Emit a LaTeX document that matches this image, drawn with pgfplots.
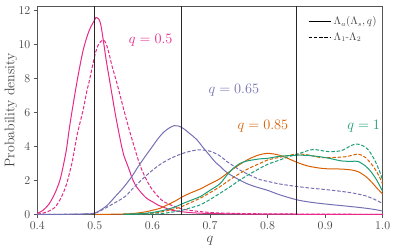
\documentclass[border=0pt]{standalone}
\usepackage{pgfplots}
\pgfplotsset{compat=1.18}
\definecolor{cpink}{HTML}{E7298A}
\definecolor{cpurple}{HTML}{7570B3}
\definecolor{corange}{HTML}{D95F02}
\definecolor{cgreen}{HTML}{1B9E77}
\definecolor{cframe}{HTML}{555555}
\definecolor{ctext}{HTML}{444444}
\begin{document}
\begin{tikzpicture}
\useasboundingbox (-37.3bp,-37.5bp) rectangle (357.7bp,214.5bp);
\begin{axis}[
  at={(0,0)}, anchor=south west,
  scale only axis, width=345.4bp, height=208.5bp,
  xmin=0.4, xmax=1.0, ymin=0, ymax=12.25,
  xtick={0.4,0.5,0.6,0.7,0.8,0.9,1.0},
  ytick={0,2,4,6,8,10,12},
  xticklabel style={/pgf/number format/.cd,fixed,fixed zerofill,precision=1},
  tick align=outside, tick pos=left,
  major tick length=3.5bp,
  axis line style={draw=cframe, line width=0.8bp},
  every tick/.style={draw=cframe, line width=0.8bp},
  tick label style={font=\fontsize{12}{14}\selectfont, text=ctext},
  xlabel={$q$}, ylabel={Probability density},
  label style={font=\fontsize{14}{16}\selectfont, text=ctext},
  xlabel style={at={(axis description cs:0.5,-0.128)}, anchor=center},
  ylabel style={at={(axis description cs:-0.0762,0.5)}, anchor=center},
  legend style={at={(1,1)}, anchor=north east, draw=none, fill=none,
    font=\fontsize{10.5}{12}\selectfont, text=ctext, row sep=3bp,
    xshift=-1bp, yshift=-6bp},
  legend cell align=left,
  legend image code/.code={\draw[#1] (0cm,0cm) -- (0.8cm,0cm);},
  every axis plot/.append style={line width=1bp, smooth},
]
% q = 0.5
\addplot[cpink, forget plot] coordinates {
(0.40,0.06) (0.41,0.25) (0.42,0.6) (0.43,1.2) (0.44,2.1) (0.45,3.7) (0.455,4.9)
(0.46,6.0) (0.47,8.0) (0.48,9.7) (0.49,10.8) (0.50,11.45) (0.503,11.57) (0.51,11.2)
(0.52,9.0) (0.525,8.0) (0.53,7.0) (0.535,6.0) (0.54,5.1) (0.5465,4.0) (0.55,3.5)
(0.56,2.6) (0.564,2.2) (0.57,1.75) (0.58,1.3) (0.59,0.95) (0.60,0.75) (0.61,0.55)
(0.62,0.42) (0.633,0.26) (0.65,0.17) (0.67,0.1) (0.70,0.06) (0.75,0.03) (0.80,0.02)
(0.90,0.01) (1.00,0.0)};
\addplot[cpink, dash pattern=on 3.5bp off 1.8bp, forget plot] coordinates {
(0.40,0.02) (0.41,0.08) (0.42,0.2) (0.43,0.4) (0.44,0.9) (0.45,1.7) (0.46,3.0)
(0.465,3.9) (0.47,4.8) (0.48,6.2) (0.4857,7.2) (0.49,7.8) (0.50,9.35) (0.505,9.9)
(0.51,10.15) (0.515,10.25) (0.52,10.0) (0.526,9.27) (0.53,8.7) (0.54,7.5)
(0.555,5.55) (0.57,3.8) (0.58,2.75) (0.595,1.7) (0.61,1.05) (0.62,0.75) (0.64,0.45)
(0.66,0.27) (0.70,0.12) (0.75,0.06) (0.80,0.04) (0.90,0.02) (1.00,0.01)};
% q = 0.65
\addplot[cpurple, forget plot] coordinates {
(0.40,0.0) (0.45,0.01) (0.48,0.03) (0.50,0.08) (0.52,0.5) (0.535,1.04) (0.55,1.6)
(0.564,2.22) (0.575,2.8) (0.587,3.39) (0.60,4.0) (0.61,4.47) (0.62,4.85) (0.63,5.1)
(0.638,5.22) (0.645,5.2) (0.6535,5.06) (0.665,4.75) (0.677,4.4) (0.69,3.85)
(0.70,3.45) (0.71,3.05) (0.717,2.85) (0.73,2.45) (0.75,2.05) (0.765,1.8) (0.78,1.62)
(0.80,1.42) (0.82,1.17) (0.85,0.87) (0.875,0.72) (0.905,0.6) (0.935,0.5)
(0.963,0.4) (0.985,0.3) (1.00,0.2)};
\addplot[cpurple, dash pattern=on 3.5bp off 1.8bp, forget plot] coordinates {
(0.40,0.0) (0.48,0.03) (0.50,0.08) (0.512,0.26) (0.53,0.6) (0.552,1.04) (0.565,1.5)
(0.581,2.03) (0.60,2.6) (0.616,3.0) (0.635,3.35) (0.6535,3.6) (0.67,3.75)
(0.6825,3.8) (0.70,3.72) (0.717,3.45) (0.73,3.1) (0.752,2.61) (0.77,2.3) (0.787,2.05)
(0.80,1.95) (0.82,1.8) (0.85,1.65) (0.875,1.55) (0.905,1.45) (0.93,1.35)
(0.95,1.25) (0.97,1.1) (0.985,0.9) (1.00,0.65)};
% q = 0.85
\addplot[corange, forget plot] coordinates {
(0.50,0.0) (0.55,0.03) (0.57,0.07) (0.59,0.17) (0.60,0.25) (0.613,0.36) (0.625,0.55)
(0.639,0.78) (0.651,1.02) (0.665,1.25) (0.683,1.5) (0.70,1.8) (0.717,2.1)
(0.735,2.55) (0.752,2.95) (0.77,3.3) (0.785,3.5) (0.798,3.59) (0.81,3.56)
(0.821,3.48) (0.835,3.3) (0.85,3.08) (0.87,2.85) (0.894,2.71) (0.91,2.68)
(0.928,2.67) (0.945,2.62) (0.957,2.52) (0.97,2.25) (0.98,1.93) (0.99,1.55) (1.00,1.2)};
\addplot[corange, dash pattern=on 3.5bp off 1.8bp, forget plot] coordinates {
(0.55,0.01) (0.58,0.04) (0.60,0.08) (0.62,0.18) (0.6477,0.42) (0.665,0.68)
(0.6825,0.95) (0.70,1.28) (0.717,1.63) (0.735,2.05) (0.752,2.42) (0.77,2.75)
(0.7866,3.0) (0.80,3.2) (0.821,3.36) (0.85,3.55) (0.87,3.5) (0.892,3.35)
(0.915,3.35) (0.937,3.4) (0.957,3.55) (0.97,3.35) (0.983,2.85) (0.993,2.3) (1.00,1.78)};
% q = 1
\addplot[cgreen, forget plot] coordinates {
(0.55,0.02) (0.58,0.05) (0.60,0.12) (0.62,0.25) (0.64,0.45) (0.651,0.62)
(0.668,0.85) (0.683,1.05) (0.70,1.42) (0.717,1.8) (0.729,2.3) (0.74,2.7)
(0.752,3.0) (0.765,3.15) (0.787,3.27) (0.80,3.3) (0.821,3.42) (0.85,3.48)
(0.87,3.47) (0.894,3.38) (0.91,3.28) (0.928,3.15) (0.945,3.12) (0.957,3.12)
(0.97,2.85) (0.98,2.5) (0.99,2.0) (1.00,1.35)};
\addplot[cgreen, dash pattern=on 3.5bp off 1.8bp, forget plot] coordinates {
(0.55,0.0) (0.60,0.03) (0.62,0.07) (0.6477,0.22) (0.665,0.38) (0.6825,0.56)
(0.70,0.88) (0.717,1.24) (0.735,1.63) (0.752,2.03) (0.77,2.4) (0.7866,2.71)
(0.80,2.95) (0.821,3.2) (0.835,3.38) (0.85,3.52) (0.865,3.7) (0.88,3.82)
(0.905,3.7) (0.928,3.75) (0.945,4.05) (0.955,4.14) (0.965,4.05) (0.975,3.8)
(0.986,3.2) (0.995,2.5) (1.00,2.0)};
% vertical reference lines
\addplot[black!85, line width=1.1bp, sharp plot, forget plot] coordinates {(0.5,0) (0.5,12.25)};
\addplot[black!85, line width=1.1bp, sharp plot, forget plot] coordinates {(0.65,0) (0.65,12.25)};
\addplot[black!85, line width=1.1bp, sharp plot, forget plot] coordinates {(0.85,0) (0.85,12.25)};
% legend
\addlegendimage{black, line width=1bp, sharp plot}
\addlegendentry{$\Lambda_a(\Lambda_s, q)$}
\addlegendimage{black, line width=1bp, sharp plot, dash pattern=on 3.5bp off 1.8bp}
\addlegendentry{$\Lambda_1$-$\Lambda_2$}
% annotations
\node[text=cpink, font=\fontsize{14}{16}\selectfont] at (axis cs:0.597,10.25) {$q = 0.5$};
\node[text=cpurple, font=\fontsize{14}{16}\selectfont] at (axis cs:0.7415,7.31) {$q = 0.65$};
\node[text=corange, font=\fontsize{14}{16}\selectfont] at (axis cs:0.792,5.2) {$q = 0.85$};
\node[text=cgreen, font=\fontsize{14}{16}\selectfont] at (axis cs:0.967,5.2) {$q = 1$};
\end{axis}
\end{tikzpicture}
\end{document}
